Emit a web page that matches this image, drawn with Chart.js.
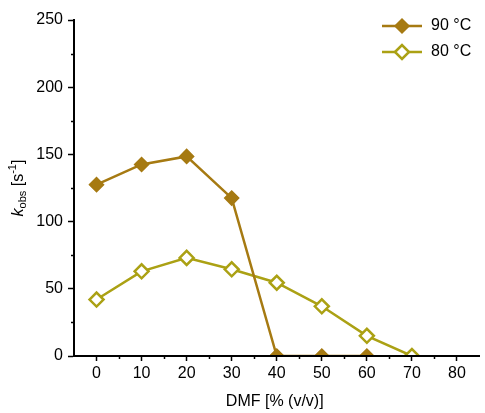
<!DOCTYPE html>
<html>
<head>
<meta charset="utf-8">
<script src="https://cdn.jsdelivr.net/npm/chart.js@4/dist/chart.umd.min.js"></script>
<style>
html, body { margin: 0; padding: 0; background: #fff; overflow: hidden; }
#wrap { position: relative; width: 489px; height: 413px; }
</style>
</head>
<body>
<div id="wrap"><canvas id="c"></canvas></div>
<script>
// data
const dmf90 = [0, 10, 20, 30, 40, 50, 60];
const k90 = [127.5, 142.5, 148.5, 117.5, 0, 0, 0];
const dmf80 = [0, 10, 20, 30, 40, 50, 60, 70];
const k80 = [42, 63, 73, 64.5, 54.5, 37, 15, 0];
const xTicks = [0, 10, 20, 30, 40, 50, 60, 70, 80];
const xMinor = [5, 15, 25, 35, 45, 55, 65, 75];
const yTicks = [0, 50, 100, 150, 200, 250];
const yMinor = [25, 75, 125, 175, 225];

const col90 = '#a67a12';
const col80 = '#aba114';
const FONT = '"Liberation Sans", Arial, sans-serif';

Chart.defaults.font.family = FONT;
Chart.defaults.color = '#000';

// minor ticks, axis lines over the markers, axis titles and the legend
const extras = {
    id: 'extras',
    afterDatasetsDraw(chart) {
        const ctx = chart.ctx;
        const xs = chart.scales.x, ys = chart.scales.y;
        const area = chart.chartArea;
        ctx.save();
        ctx.strokeStyle = '#000';
        ctx.lineWidth = 2;
        ctx.beginPath();
        ctx.moveTo(area.left, area.top - 1);
        ctx.lineTo(area.left, area.bottom);
        ctx.lineTo(area.right, area.bottom);
        ctx.stroke();

        ctx.lineWidth = 1.5;
        xMinor.forEach(v => {
            const px = Math.round(xs.getPixelForValue(v)) + 0.5;
            ctx.beginPath();
            ctx.moveTo(px, area.bottom);
            ctx.lineTo(px, area.bottom + 3);
            ctx.stroke();
        });
        yMinor.forEach(v => {
            const py = Math.round(ys.getPixelForValue(v)) + 0.5;
            ctx.beginPath();
            ctx.moveTo(area.left - 3, py);
            ctx.lineTo(area.left, py);
            ctx.stroke();
        });

        // x title
        ctx.fillStyle = '#000';
        ctx.font = '16px ' + FONT;
        ctx.textAlign = 'center';
        ctx.textBaseline = 'middle';
        ctx.fillText('DMF [% (v/v)]', (area.left + area.right) / 2 - 2, 402);

        // y title: k_obs [s^-1]
        const parts = [
            { t: 'k', f: 'italic 16px ' + FONT, dy: 0 },
            { t: 'obs', f: '11px ' + FONT, dy: 4 },
            { t: ' [s', f: '16px ' + FONT, dy: 0 },
            { t: '-1', f: '11px ' + FONT, dy: -6 },
            { t: ']', f: '16px ' + FONT, dy: 0 }
        ];
        let total = 0;
        parts.forEach(p => { ctx.font = p.f; p.w = ctx.measureText(p.t).width; total += p.w; });
        ctx.translate(19, (area.top + area.bottom) / 2);
        ctx.rotate(-Math.PI / 2);
        ctx.textAlign = 'left';
        let x = -total / 2;
        parts.forEach(p => {
            ctx.font = p.f;
            ctx.fillText(p.t, x, p.dy);
            x += p.w;
        });
        ctx.setTransform(1, 0, 0, 1, 0, 0);

        // legend
        chart.data.datasets.forEach((ds, i) => {
            const y = 26 + i * 26;
            ctx.strokeStyle = ds.borderColor;
            ctx.lineWidth = ds.borderWidth;
            ctx.beginPath();
            ctx.moveTo(382, y);
            ctx.lineTo(422, y);
            ctx.stroke();
            ctx.fillStyle = ds.pointBackgroundColor;
            ctx.strokeStyle = ds.pointBorderColor;
            ctx.lineWidth = ds.pointBorderWidth;
            Chart.helpers.drawPoint(ctx, { pointStyle: 'rectRot', radius: ds.pointRadius, borderWidth: ds.pointBorderWidth }, 402, y);
            ctx.fillStyle = '#000';
            ctx.font = '16px ' + FONT;
            ctx.textAlign = 'left';
            ctx.textBaseline = 'middle';
            ctx.fillText(ds.label, 431, y);
        });
        ctx.restore();
    }
};

new Chart(document.getElementById('c'), {
    type: 'line',
    data: {
        datasets: [
            {
                label: '90 °C',
                data: dmf90.map((x, i) => ({ x, y: k90[i] })),
                borderColor: col90,
                borderWidth: 2.5,
                pointStyle: 'rectRot',
                pointRadius: 7,
                pointBorderWidth: 1.5,
                pointBackgroundColor: col90,
                pointBorderColor: col90,
                tension: 0,
                clip: { left: 10, top: 10, right: 10, bottom: 0 }
            },
            {
                label: '80 °C',
                data: dmf80.map((x, i) => ({ x, y: k80[i] })),
                borderColor: col80,
                borderWidth: 2.5,
                pointStyle: 'rectRot',
                pointRadius: 7,
                pointBorderWidth: 2.5,
                pointBackgroundColor: '#fff',
                pointBorderColor: col80,
                tension: 0,
                clip: { left: 10, top: 10, right: 10, bottom: 0 }
            }
        ]
    },
    options: {
        responsive: true,
        maintainAspectRatio: false,
        animation: false,
        layout: { padding: { top: 20, right: 0, left: 0, bottom: 0 } },
        plugins: {
            legend: { display: false },
            tooltip: { enabled: false }
        },
        scales: {
            x: {
                type: 'linear',
                min: -5,
                max: 85,
                afterBuildTicks: s => { s.ticks = xTicks.map(v => ({ value: v })); },
                afterFit: s => { s.height = 57; },
                grid: { drawOnChartArea: false, tickLength: 5, tickColor: '#000', tickWidth: 1.5 },
                border: { display: true, color: '#000', width: 2 },
                ticks: { font: { size: 16 }, color: '#000', padding: 3, maxRotation: 0 }
            },
            y: {
                min: 0,
                max: 250,
                afterBuildTicks: s => { s.ticks = yTicks.map(v => ({ value: v })); },
                afterFit: s => { s.width = 74; },
                grid: { drawOnChartArea: false, tickLength: 6, tickColor: '#000', tickWidth: 1.5 },
                border: { display: true, color: '#000', width: 2 },
                ticks: { font: { size: 16 }, color: '#000', padding: 5 }
            }
        }
    },
    plugins: [extras]
});
</script>
</body>
</html>
